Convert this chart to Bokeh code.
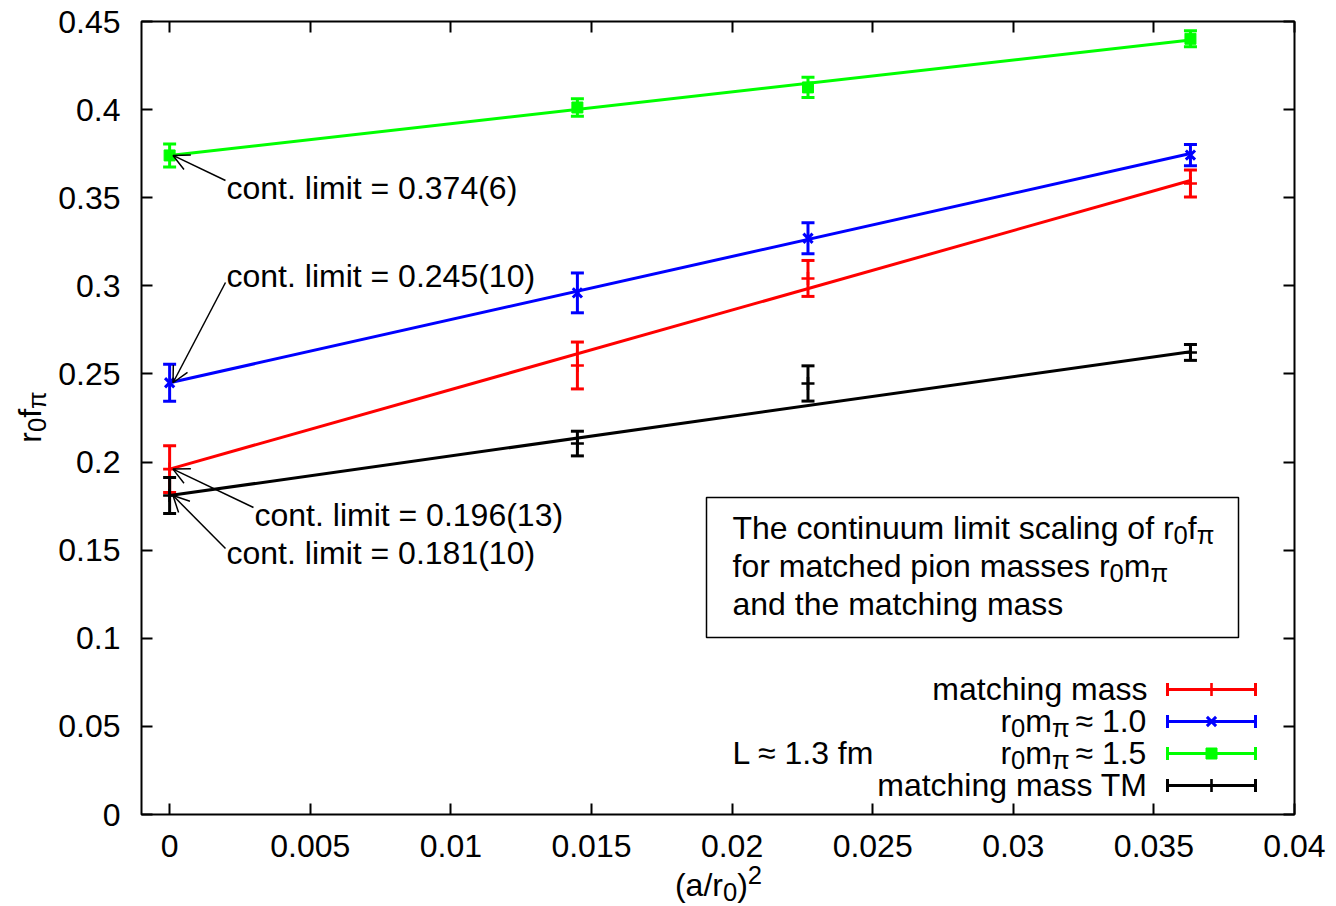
import re
import numpy as np
from bokeh.plotting import figure
from bokeh.models import (ColumnDataSource, Whisker, TeeHead, Label, Arrow, OpenHead,
                          BoxAnnotation, LinearAxis, FixedTicker, Range1d)
from bokeh.embed import file_html
from bokeh.resources import INLINE

# ---------------- data ----------------
a2 = [0.0, 0.0145, 0.0227, 0.0363]                 # (a/r0)^2

mm_y = [0.196, 0.2548, 0.3042, 0.3581]             # matching mass
mm_err = [0.0133, 0.0133, 0.0102, 0.0077]
m10_y = [0.245, 0.2960, 0.3270, 0.3742]            # r0 m_pi ~ 1.0
m10_err = [0.0105, 0.0113, 0.0088, 0.0060]
m15_y = [0.374, 0.4012, 0.4126, 0.4402]            # r0 m_pi ~ 1.5
m15_err = [0.0065, 0.0050, 0.0057, 0.0045]
tm_y = [0.181, 0.2105, 0.2446, 0.2622]             # matching mass TM
tm_err = [0.0102, 0.0070, 0.0100, 0.0045]

fit_x = [0.0, 0.0363]
mm_fit = [0.196, 0.3598]
m10_fit = [0.245, 0.3751]
m15_fit = [0.374, 0.4395]
tm_fit = [0.181, 0.2626]

series_names = ["matching mass", "r_{0}m_{π} ≈ 1.0", "r_{0}m_{π} ≈ 1.5", "matching mass TM"]
cont_vals = [0.374, 0.245, 0.196, 0.181]
cont_texts = ["cont. limit = 0.374(6)", "cont. limit = 0.245(10)",
              "cont. limit = 0.196(13)", "cont. limit = 0.181(10)"]

xtick_vals = [0.0, 0.005, 0.01, 0.015, 0.02, 0.025, 0.03, 0.035, 0.04]
xtick_labels = ["0", "0.005", "0.01", "0.015", "0.02", "0.025", "0.03", "0.035", "0.04"]
ytick_vals = [0.0, 0.05, 0.1, 0.15, 0.2, 0.25, 0.3, 0.35, 0.4, 0.45]
ytick_labels = ["0", "0.05", "0.1", "0.15", "0.2", "0.25", "0.3", "0.35", "0.4", "0.45"]

box_lines = ["The continuum limit scaling of r_{0}f_{π}",
             "for matched pion masses r_{0}m_{π}",
             "and the matching mass"]
note_text = "L ≈ 1.3 fm"
xlabel = "(a/r_{0})^{2}"
ylabel = "r_{0}f_{π}"

# ---------------- layout ----------------
W, H = 1336, 906
FL, FR, FT, FB = 141, 1294, 21, 814          # plot box in canvas pixels
XR = (-0.001, 0.04)
YR = (0.0, 0.45)
SX = (XR[1] - XR[0]) / (FR - FL)
SY = (YR[1] - YR[0]) / (FB - FT)
FONT = "Liberation Sans"
FS = 32
SUBS = 0.8
SUB_DROP = 7
SUP_RISE = 10
BASE_FIX = -12


def px2x(px):
    return XR[0] + (px - FL) * SX


def py2y(py):
    return YR[0] + (FB - py) * SY


ADV = {' ': 278, '(': 333, ')': 333, '.': 278, '/': 278, '=': 584, '≈': 584, 'π': 570,
       'a': 556, 'b': 556, 'c': 500, 'd': 556, 'e': 556, 'f': 278, 'g': 556, 'h': 556,
       'i': 222, 'j': 222, 'k': 500, 'l': 222, 'm': 833, 'n': 556, 'o': 556, 'p': 556,
       'q': 556, 'r': 333, 's': 500, 't': 278, 'u': 556, 'v': 500, 'w': 722, 'x': 500,
       'y': 500, 'z': 500, 'L': 556, 'M': 833, 'T': 611}


def text_w(t, size):
    return sum(ADV.get(ch, 556) for ch in t) / 1000.0 * size


def parse(s):
    out = []
    for m in re.finditer(r'_\{([^}]*)\}|\^\{([^}]*)\}|([^_^]+)', s):
        if m.group(1) is not None:
            out.append((m.group(1), 'sub'))
        elif m.group(2) is not None:
            out.append((m.group(2), 'sup'))
        else:
            out.append((m.group(3), 'n'))
    return out


p = figure(width=W, height=H, title=None,
           x_range=Range1d(px2x(0), px2x(W)), y_range=Range1d(py2y(H), py2y(0)),
           output_backend="svg", toolbar_location=None, min_border=0)
p.background_fill_color = "white"
p.border_fill_color = "white"
p.outline_line_color = None
p.xgrid.grid_line_color = None
p.ygrid.grid_line_color = None


def rich(s, px, py, size=FS, align="left", rotated=False, color="black"):
    pieces = parse(s)
    sizes = [size * (SUBS if k != 'n' else 1.0) for _, k in pieces]
    widths = [text_w(t, sz) for (t, _), sz in zip(pieces, sizes)]
    total = sum(widths)
    shift = {"left": 0.0, "center": total / 2.0, "right": total}[align]
    pos = 0.0
    for (t, k), sz, w in zip(pieces, sizes, widths):
        lead = len(t) - len(t.lstrip(" "))
        start = pos + text_w(" " * lead, sz)
        t = t.strip(" ")
        off = SUB_DROP if k == 'sub' else (-SUP_RISE if k == 'sup' else 0)
        off += BASE_FIX
        if not rotated:
            x, y, ang = px - shift + start, py + off, 0.0
        else:
            x, y, ang = px + off, py + shift - start, np.pi / 2
        if t:
            p.add_layout(Label(x=px2x(x), y=py2y(y), text=t, text_font=FONT,
                               text_font_size=f"{sz:.1f}px", text_color=color,
                               text_align="left", text_baseline="alphabetic", angle=ang))
        pos += w


def style_axis(ax, vals, labels, show, loc):
    ax.fixed_location = loc
    ax.ticker = FixedTicker(ticks=vals)
    ax.major_label_overrides = {v: (l if show else "") for v, l in zip(vals, labels)}
    ax.axis_line_color = None
    ax.major_tick_in = 11
    ax.major_tick_out = 0
    ax.major_tick_line_width = 2
    ax.major_tick_line_color = "black"
    ax.minor_tick_line_color = None
    ax.major_label_text_font = FONT
    ax.major_label_text_color = "black"
    ax.major_label_text_font_size = f"{FS}px" if show else "1px"


style_axis(p.xaxis[0], xtick_vals, xtick_labels, True, YR[0])
style_axis(p.yaxis[0], ytick_vals, ytick_labels, True, XR[0])
p.xaxis[0].major_label_standoff = 20
p.yaxis[0].major_label_standoff = 21

top_ax = LinearAxis()
style_axis(top_ax, xtick_vals, xtick_labels, False, YR[1])
p.add_layout(top_ax, "above")
right_ax = LinearAxis()
style_axis(right_ax, ytick_vals, ytick_labels, False, XR[1])
p.add_layout(right_ax, "right")

# plot box
p.add_layout(BoxAnnotation(left=XR[0], right=XR[1], bottom=YR[0], top=YR[1],
                           fill_color=None, fill_alpha=0.0, line_color="black",
                           line_width=2, line_alpha=1.0, level="underlay"))

# ---------------- series ----------------
series = [
    (mm_y, mm_err, mm_fit, "#ff0000", "cross"),
    (m10_y, m10_err, m10_fit, "#0000ff", "x"),
    (m15_y, m15_err, m15_fit, "#00ff00", "square"),
    (tm_y, tm_err, tm_fit, "#000000", "cross"),
]

LW = 3
CAP = 13


def draw_marker(xs, ys, color, marker):
    if marker == "square":
        p.scatter(xs, ys, marker="square", size=11, fill_color=color, line_color=color)
    elif marker == "x":
        p.scatter(xs, ys, marker="x", size=13, line_color=color, line_width=3)
    else:
        p.scatter(xs, ys, marker="cross", size=13, line_color=color, line_width=2.6)


for ys, errs, fit, color, marker in series:
    src = ColumnDataSource(dict(x=a2, y=ys,
                                lo=[y - e for y, e in zip(ys, errs)],
                                up=[y + e for y, e in zip(ys, errs)]))
    p.add_layout(Whisker(source=src, base="x", lower="lo", upper="up", dimension="height",
                         line_color=color, line_width=LW,
                         lower_head=TeeHead(size=CAP, line_color=color, line_width=LW),
                         upper_head=TeeHead(size=CAP, line_color=color, line_width=LW)))
    draw_marker(a2, ys, color, marker)
    p.line(fit_x, fit, line_color=color, line_width=LW)

# ---------------- annotations ----------------
arrow_tail_px = [(225, 180), (225, 282), (253, 507), (225, 548)]
text_px = [(226, 199), (226, 287), (254, 526), (226, 564)]
for (tx, ty), (lx, ly), cv, txt in zip(arrow_tail_px, text_px, cont_vals, cont_texts):
    p.add_layout(Arrow(x_start=px2x(tx), y_start=py2y(ty), x_end=0.00012, y_end=cv,
                       line_color="black", line_width=1.5,
                       end=OpenHead(size=16, line_color="black", line_width=1.5)))
    rich(txt, lx, ly)

# info box
p.add_layout(BoxAnnotation(left=px2x(706), right=px2x(1238), top=py2y(497), bottom=py2y(637),
                           fill_color="white", fill_alpha=1.0, line_color="black",
                           line_width=1.5, line_alpha=1.0))
for i, s in enumerate(box_lines):
    rich(s, 732, 539 + 38 * i)

# legend (gnuplot style: text on the left, sample on the right)
row_cy = [689, 721, 753, 785]
for (ys, errs, fit, color, marker), lab, cy in zip(series, series_names, row_cy):
    rich(lab, 1147, cy + 11, align="right")
    yy = py2y(cy)
    half = 6.5 * SY
    p.segment(x0=[px2x(1167)], y0=[yy], x1=[px2x(1255)], y1=[yy], line_color=color, line_width=LW)
    p.segment(x0=[px2x(1167), px2x(1255)], y0=[yy - half, yy - half],
              x1=[px2x(1167), px2x(1255)], y1=[yy + half, yy + half],
              line_color=color, line_width=LW)
    draw_marker([px2x(1211)], [yy], color, marker)

rich(note_text, 732, 764)

# axis titles
rich(xlabel, 718, 896, align="center")
rich(ylabel, 41, 418, align="center", rotated=True)

open("out.html", "w").write(file_html(p, INLINE))
